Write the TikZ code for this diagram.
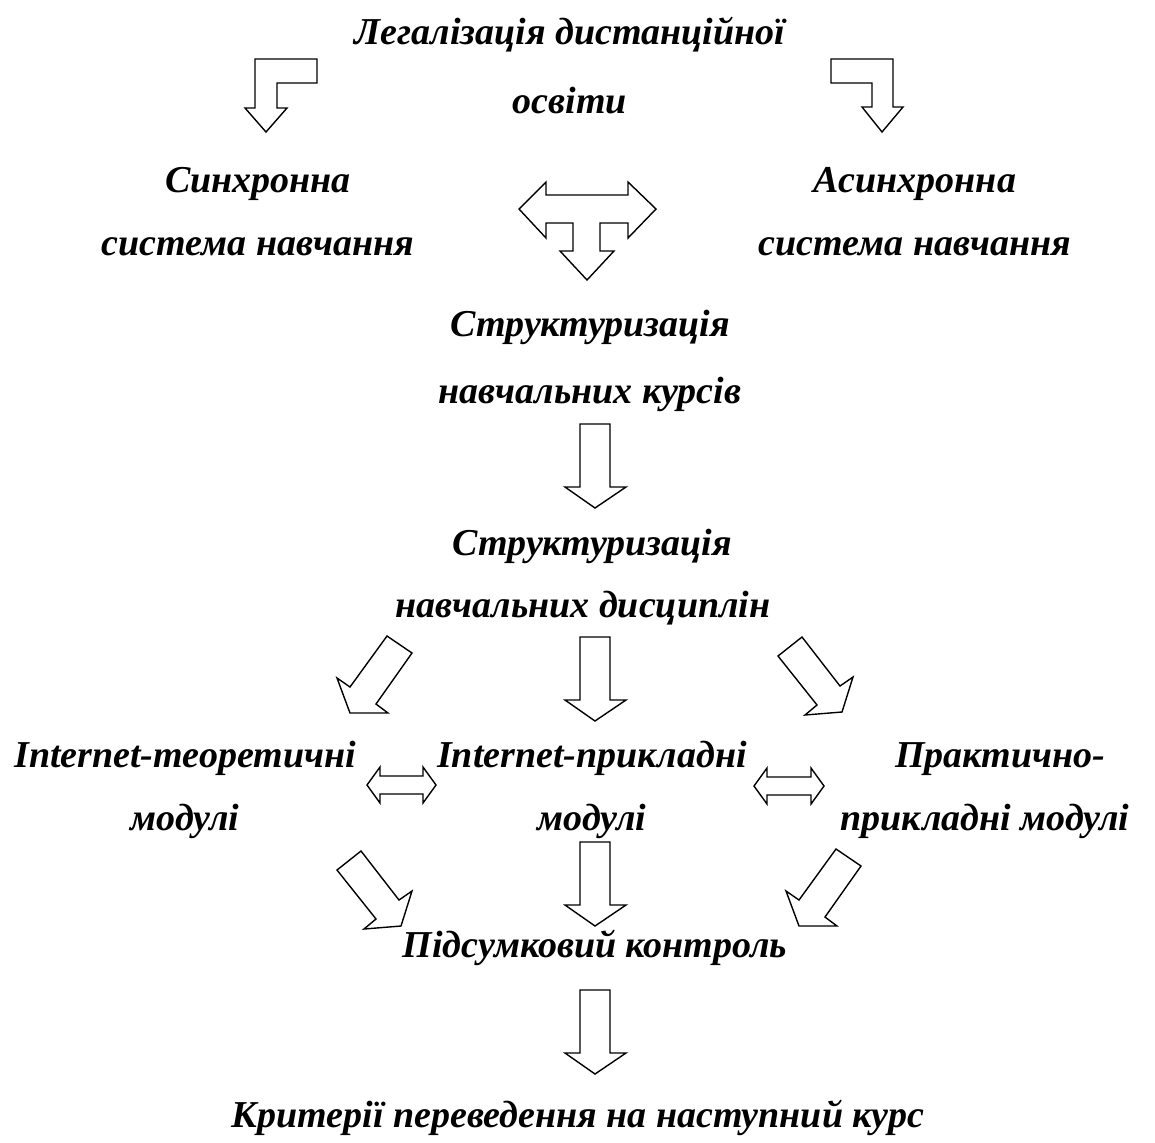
\documentclass[tikz,border=0pt]{standalone}
\usepackage{fontspec}
\setmainfont{Liberation Serif}
\usetikzlibrary{positioning}
\tikzstyle{canvas} = [x = 0.5pt, y = -0.5pt]
\tikzstyle{blockArrow} = [draw=black, fill=white, line width=0.7pt, line join=miter]
\tikzstyle{lineText} = [anchor=base, inner sep=0pt, font=\fontsize{19}{23}\selectfont\bfseries\itshape]
\newcommand{\downArrow}[2]{\filldraw [blockArrow] (#1 - 15, #2) -- (#1 + 15, #2) -- (#1 + 15, #2 + 63) -- (#1 + 31, #2 + 63) -- (#1, #2 + 84) -- (#1 - 30, #2 + 63) -- (#1 - 15, #2 + 63) -- cycle;}
\newcommand{\doubleArrow}[3]{\filldraw [blockArrow] (#1, #2) -- (#1 + 13, #2 - 18) -- (#1 + 13, #2 - 9) -- (#1 + #3 - 13, #2 - 9) -- (#1 + #3 - 13, #2 - 18) -- (#1 + #3, #2) -- (#1 + #3 - 13, #2 + 18) -- (#1 + #3 - 13, #2 + 9) -- (#1 + 13, #2 + 9) -- (#1 + 13, #2 + 18) -- cycle;}
\newcommand{\downLeftArrow}[2]{\filldraw [blockArrow, shift={(#1,#2)}] (0,0) -- (25,17) -- (-11,68) -- (1,77) -- (-37,77) -- (-50,42) -- (-37,51) -- cycle;}
\newcommand{\downRightArrow}[2]{\filldraw [blockArrow, shift={(#1,#2)}] (0,0) -- (24,-19) -- (62,30) -- (75,21) -- (64,56) -- (27,59) -- (39,49) -- cycle;}

\begin{document}
\begin{tikzpicture}[canvas]
        \useasboundingbox (0,0) rectangle (1155,1142);

        % texts
        \node [lineText] (legal) at (570,44) {Легалізація дистанційної};
        \node [lineText] (legalTwo) at (570,113) {освіти};
        \node [lineText] (sync) at (258,192) {Синхронна};
        \node [lineText] (syncTwo) at (258,255) {система навчання};
        \node [lineText] (async) at (915,192) {Асинхронна};
        \node [lineText] (asyncTwo) at (915,255) {система навчання};
        \node [lineText] (courses) at (590,336) {Структуризація};
        \node [lineText] (coursesTwo) at (590,403) {навчальних курсів};
        \node [lineText] (subjects) at (592,555) {Структуризація};
        \node [lineText] (subjectsTwo) at (583,617) {навчальних дисциплін};
        \node [lineText] (theory) at (185,767) {Internet-теоретичні};
        \node [lineText] (theoryTwo) at (185,830) {модулі};
        \node [lineText] (applied) at (592,767) {Internet-прикладні};
        \node [lineText] (appliedTwo) at (592,830) {модулі};
        \node [lineText] (practice) at (1000,767) {Практично-};
        \node [lineText] (practiceTwo) at (985,830) {прикладні модулі};
        \node [lineText] (control) at (595,957) {Підсумковий контроль};
        \node [lineText] (criteria) at (578,1127) {Критерії переведення на наступний курс};

        % bent arrows
        \filldraw [blockArrow] (255,59) -- (317,59) -- (317,83) -- (277,83) -- (277,108) -- (287,108) -- (266,132) -- (245,108) -- (255,108) -- cycle;
        \filldraw [blockArrow] (831,59) -- (893,59) -- (893,107) -- (903,107) -- (882,132) -- (862,107) -- (872,107) -- (872,83) -- (831,83) -- cycle;

        % T arrow
        \filldraw [blockArrow] (519,209) -- (546,182) -- (546,195) -- (628,195) -- (628,182) -- (656,209) -- (628,238) -- (628,223) -- (600,223) -- (600,251) -- (614,251) -- (587,280) -- (560,251) -- (573,251) -- (573,223) -- (546,223) -- (546,238) -- cycle;

        \downArrow{595}{424}
        \downArrow{595}{637}
        \downLeftArrow{387}{636}
        \downRightArrow{778}{656}
        \doubleArrow{367}{785}{69}
        \doubleArrow{754}{786}{70}
        \downRightArrow{337}{870}
        \downArrow{595}{842}
        \downLeftArrow{836}{849}
        \downArrow{595}{990}
      \end{tikzpicture}
\end{document}
